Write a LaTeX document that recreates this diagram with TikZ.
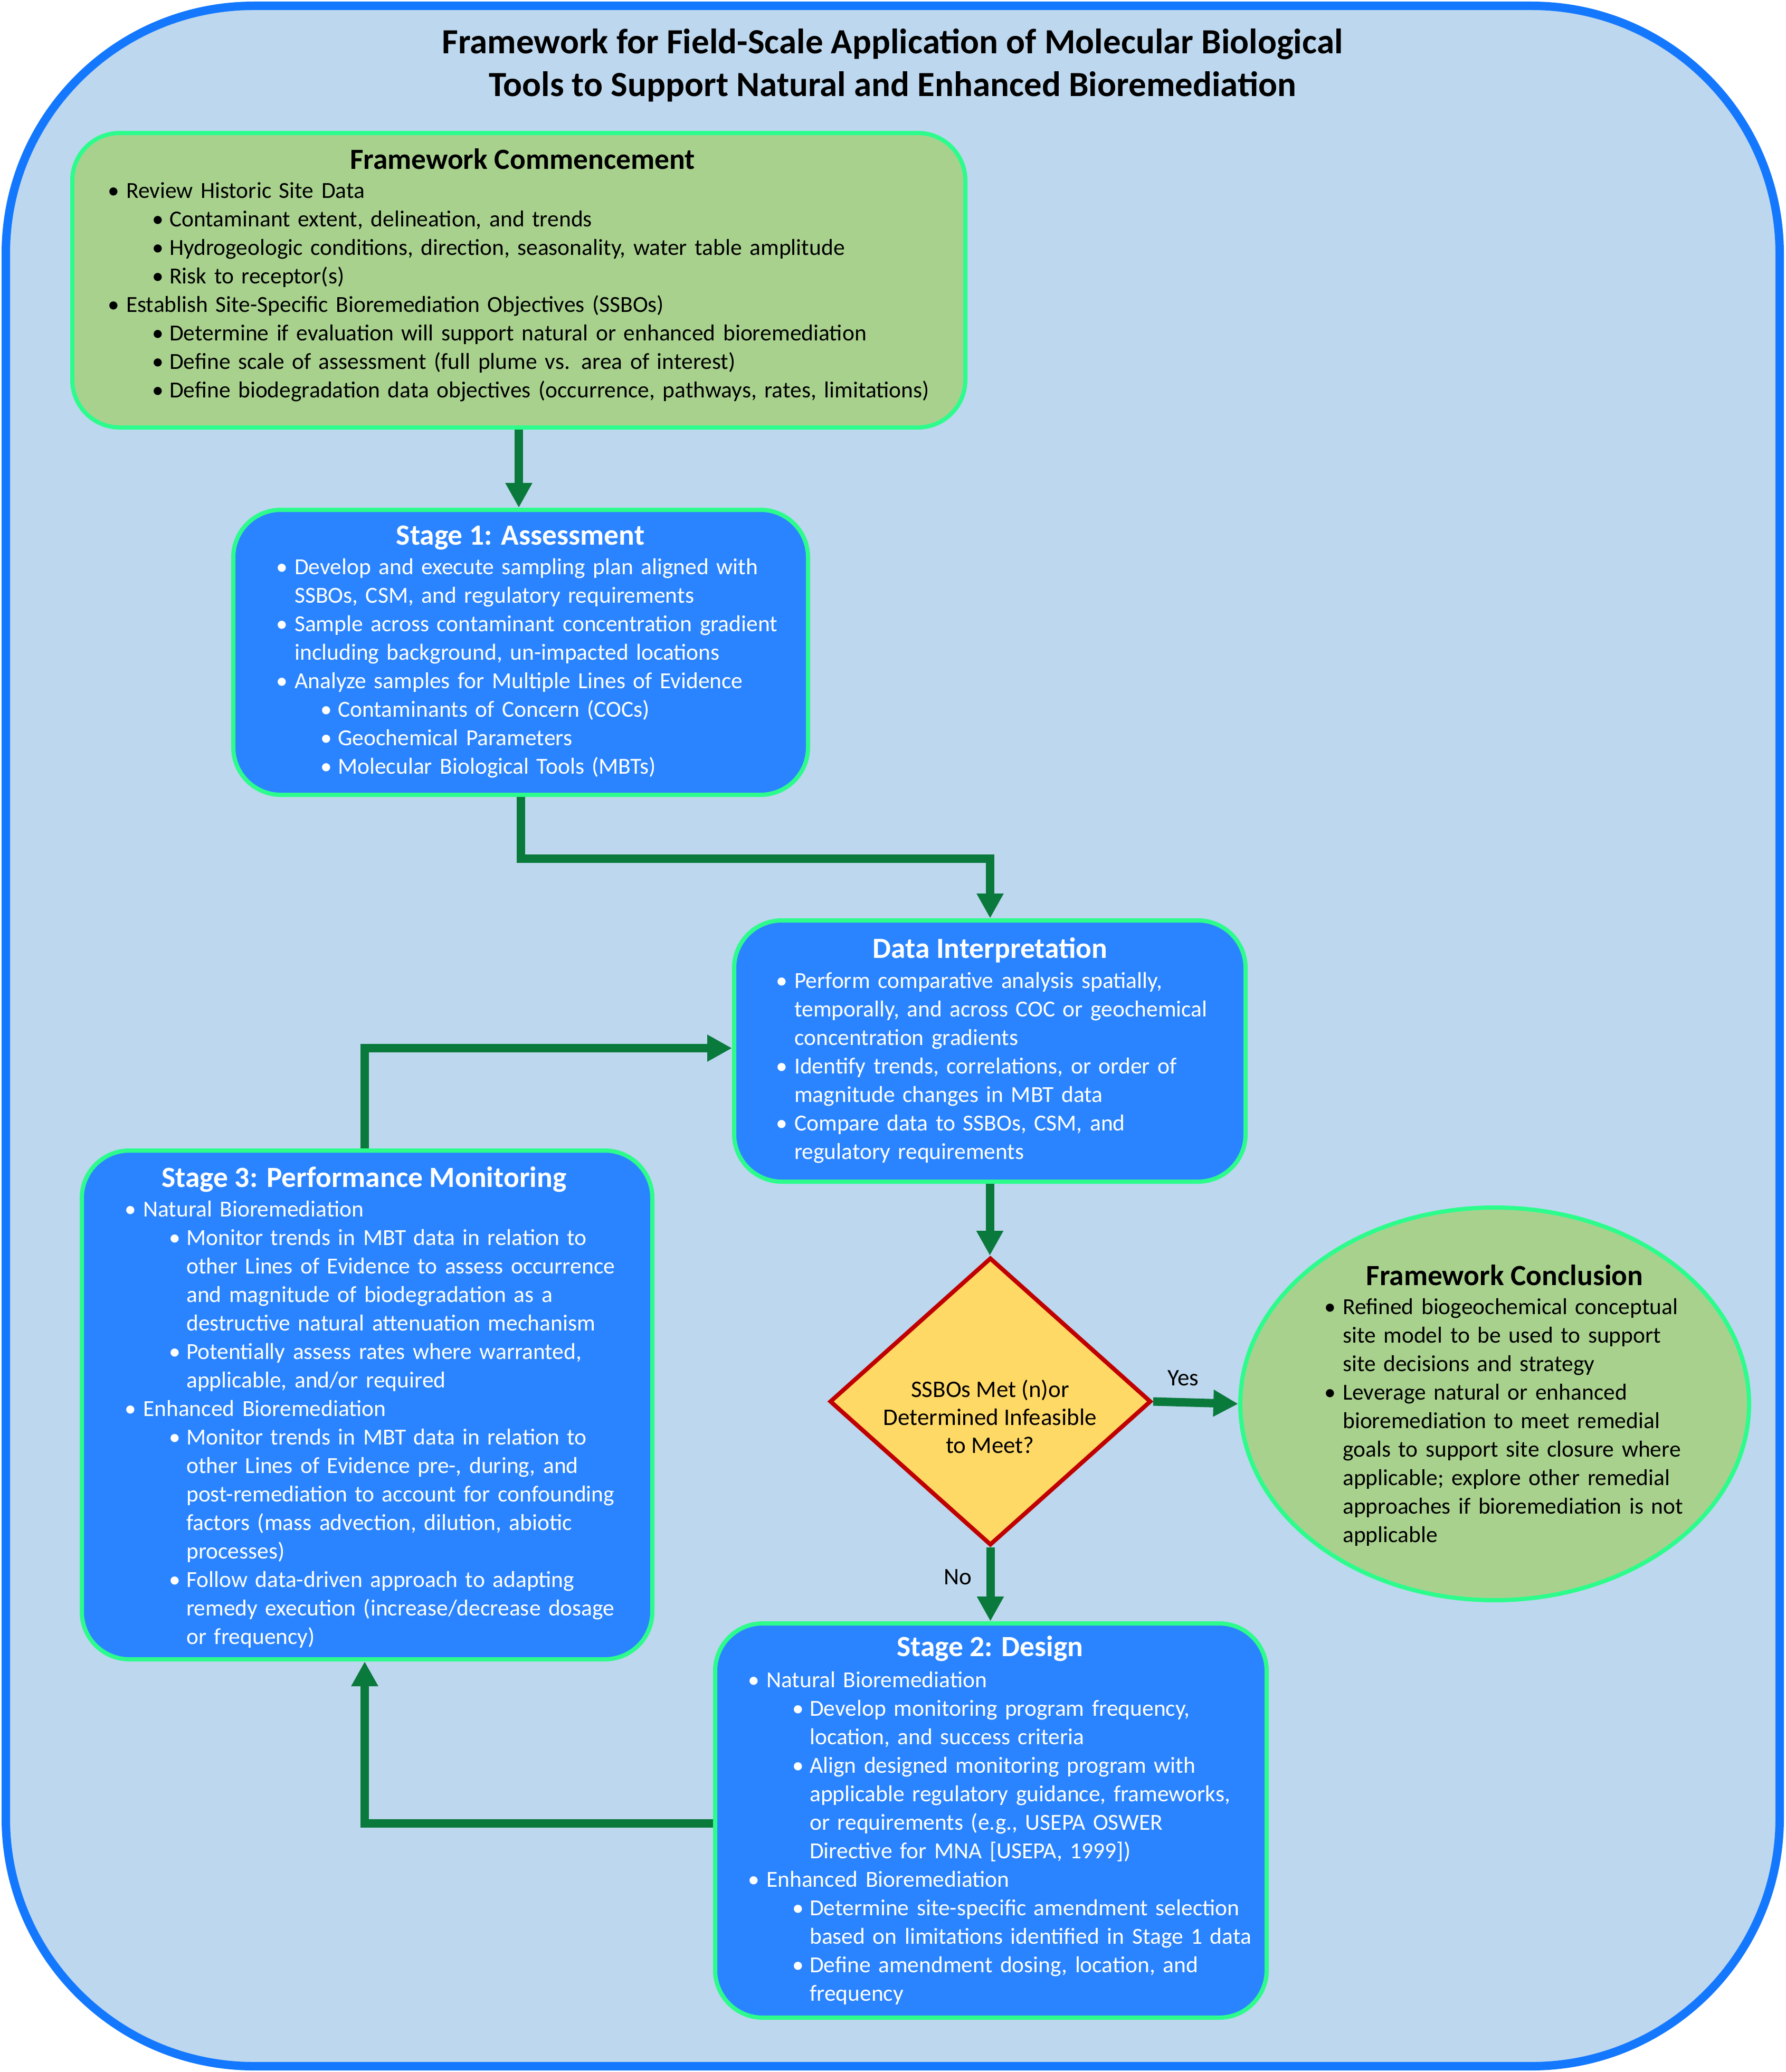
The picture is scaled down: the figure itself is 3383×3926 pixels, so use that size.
\documentclass[tikz,border=0pt]{standalone}
\usepackage{fontspec}
\setmainfont{Carlito}
\usetikzlibrary{arrows.meta,shapes.geometric}
\definecolor{bgblue}{RGB}{189,215,238}
\definecolor{frameblue}{RGB}{20,120,255}
\definecolor{boxblue}{RGB}{43,132,255}
\definecolor{boxgreen}{RGB}{169,209,142}
\definecolor{edgegreen}{RGB}{45,252,140}
\definecolor{arrowgreen}{RGB}{10,122,60}
\definecolor{dyellow}{RGB}{255,217,102}
\definecolor{dred}{RGB}{192,0,0}
\newcommand{\fstrut}{\rule{0pt}{40pt}}
\newcommand{\iA}[1]{\par\noindent\hangindent=35pt\hangafter=1\makebox[35pt][l]{\textbullet}#1}
\newcommand{\iB}[1]{\par\noindent\hangindent=117pt\hangafter=1\hspace*{84pt}\makebox[33pt][l]{\textbullet}#1}
\begin{document}
\begin{tikzpicture}[x=1pt,y=-1pt,
  gbox/.style={draw=edgegreen, fill=boxgreen, line width=8pt, rounded corners=90pt, inner sep=0pt},
  bbox/.style={draw=edgegreen, fill=boxblue, line width=8pt, rounded corners=90pt, inner sep=0pt},
  btitle/.style={anchor=base, inner sep=0pt, text=white, font=\fontsize{55.5}{62}\selectfont\bfseries},
  gtitle/.style={anchor=base, inner sep=0pt, text=black, font=\fontsize{55.5}{62}\selectfont\bfseries},
  blist/.style={anchor=north west, inner sep=0pt, text=white, text width=1300pt, align=left, font=\fontsize{43.5}{54}\selectfont},
  glist/.style={anchor=north west, inner sep=0pt, text=black, text width=1700pt, align=left, font=\fontsize{43.5}{54}\selectfont},
  arr/.style={draw=arrowgreen, line width=16pt, line join=miter, -{Triangle[width=48pt,length=47pt]}},
  lbl/.style={anchor=base, inner sep=0pt, font=\fontsize{45}{54}\selectfont}
]
\useasboundingbox (0,0) rectangle (3383,3926);
\fill[white] (0,0) rectangle (3383,3926);
\draw[draw=frameblue, fill=bgblue, line width=16pt, rounded corners=470pt] (11,11) rectangle (3372,3915);

% title
\node[anchor=base, inner sep=0pt, font=\fontsize{67}{80}\selectfont\bfseries] (title1) at (1691,102) {Framework for Field-Scale Application of Molecular Biological};
\node[anchor=base, inner sep=0pt, font=\fontsize{67}{80}\selectfont\bfseries] (title2) at (1691,183) {Tools to Support Natural and Enhanced Bioremediation};

% boxes
\node[gbox, minimum width=1692pt, minimum height=558pt] (fc) at (983,531) {};
\node[bbox, minimum width=1089pt, minimum height=540pt] (s1) at (986.5,1236) {};
\node[bbox, minimum width=969pt, minimum height=495pt] (di) at (1875.5,1991.5) {};
\node[bbox, minimum width=1081pt, minimum height=964pt] (s3) at (695.5,2662) {};
\node[bbox, minimum width=1045pt, minimum height=747pt] (s2) at (1877.5,3449.5) {};
\node[ellipse, draw=edgegreen, fill=boxgreen, line width=8pt, inner sep=0pt, minimum width=964pt, minimum height=744pt] (fcl) at (2832,2660) {};
\node[diamond, draw=dred, fill=dyellow, line width=8pt, inner sep=0pt, minimum width=609pt, minimum height=545pt] (dia) at (1876.5,2655.5) {};

% Framework Commencement
\node[gtitle] (fct) at (990,320) {Framework Commencement};
\node[glist] (fcx) at (204,321) {%
\iA{\fstrut Review Historic Site Data}
\iB{Contaminant extent, delineation, and trends}
\iB{Hydrogeologic conditions, direction, seasonality, water table amplitude}
\iB{Risk to receptor(s)}
\iA{Establish Site-Specific Bioremediation Objectives (SSBOs)}
\iB{Determine if evaluation will support natural or enhanced bioremediation}
\iB{Define scale of assessment (full plume vs. area of interest)}
\iB{Define biodegradation data objectives (occurrence, pathways, rates, limitations)}\par};

% Stage 1
\node[btitle] (s1t) at (986,1032) {Stage 1: Assessment};
\node[blist] (s1x) at (523,1034) {%
\iA{\fstrut Develop and execute sampling plan aligned with\newline SSBOs, CSM, and regulatory requirements}
\iA{Sample across contaminant concentration gradient\newline including background, un-impacted locations}
\iA{Analyze samples for Multiple Lines of Evidence}
\iB{Contaminants of Concern (COCs)}
\iB{Geochemical Parameters}
\iB{Molecular Biological Tools (MBTs)}\par};

% Data Interpretation
\node[btitle] (dit) at (1876,1815) {Data Interpretation};
\node[blist] (dix) at (1470,1818) {%
\iA{\fstrut Perform comparative analysis spatially,\newline temporally, and across COC or geochemical\newline concentration gradients}
\iA{Identify trends, correlations, or order of\newline magnitude changes in MBT data}
\iA{Compare data to SSBOs, CSM, and\newline regulatory requirements}\par};

% Stage 3
\node[btitle] (s3t) at (690,2249) {Stage 3: Performance Monitoring};
\node[blist] (s3x) at (236,2251) {%
\iA{\fstrut Natural Bioremediation}
\iB{Monitor trends in MBT data in relation to\newline other Lines of Evidence to assess occurrence\newline and magnitude of biodegradation as a\newline destructive natural attenuation mechanism}
\iB{Potentially assess rates where warranted,\newline applicable, and/or required}
\iA{Enhanced Bioremediation}
\iB{Monitor trends in MBT data in relation to\newline other Lines of Evidence pre-, during, and\newline post-remediation to account for confounding\newline factors (mass advection, dilution, abiotic\newline processes)}
\iB{Follow data-driven approach to adapting\newline remedy execution (increase/decrease dosage\newline or frequency)}\par};

% Stage 2
\node[btitle] (s2t) at (1876,3138) {Stage 2: Design};
\node[blist] (s2x) at (1417,3143) {%
\iA{\fstrut Natural Bioremediation}
\iB{Develop monitoring program frequency,\newline location, and success criteria}
\iB{Align designed monitoring program with\newline applicable regulatory guidance, frameworks,\newline or requirements (e.g., USEPA OSWER\newline Directive for MNA [USEPA, 1999])}
\iA{Enhanced Bioremediation}
\iB{Determine site-specific amendment selection\newline based on limitations identified in Stage 1 data}
\iB{Define amendment dosing, location, and\newline frequency}\par};

% Framework Conclusion
\node[gtitle] (fclt) at (2851,2435) {Framework Conclusion};
\node[glist, text width=900pt] (fclx) at (2509,2436) {%
\iA{\fstrut Refined biogeochemical conceptual\newline site model to be used to support\newline site decisions and strategy}
\iA{Leverage natural or enhanced\newline bioremediation to meet remedial\newline goals to support site closure where\newline applicable; explore other remedial\newline approaches if bioremediation is not\newline applicable}\par};

% Diamond text
\node[anchor=north, inner sep=0pt, align=center, font=\fontsize{45}{53}\selectfont] (diat) at (1876,2607) {\fstrut SSBOs Met (n)or\\Determined Infeasible\\to Meet?};

% connectors
\coordinate (k1) at (1876,1627);
\coordinate (k3) at (691,3455);
\coordinate (k4) at (691,1986);
\draw[arr] (fc.south) -- (fc.south |- s1.north);
\draw[arr] (s1.south) |- (k1) -- (k1 |- di.north);
\draw[arr] (di.south) -- (di.south |- dia.north);
\draw[arr] (dia.east) -- (fcl.west);
\draw[arr] (dia.south) -- (dia.south |- s2.north);
\draw[arr] (s2.west |- k3) -- (k3) -- (k3 |- s3.south);
\draw[arr] (k4 |- s3.north) -- (k4) -- (k4 -| di.west);

\node[lbl] (yes) at (2242,2625) {Yes};
\node[lbl] (no) at (1815,3002) {No};
\end{tikzpicture}
\end{document}
